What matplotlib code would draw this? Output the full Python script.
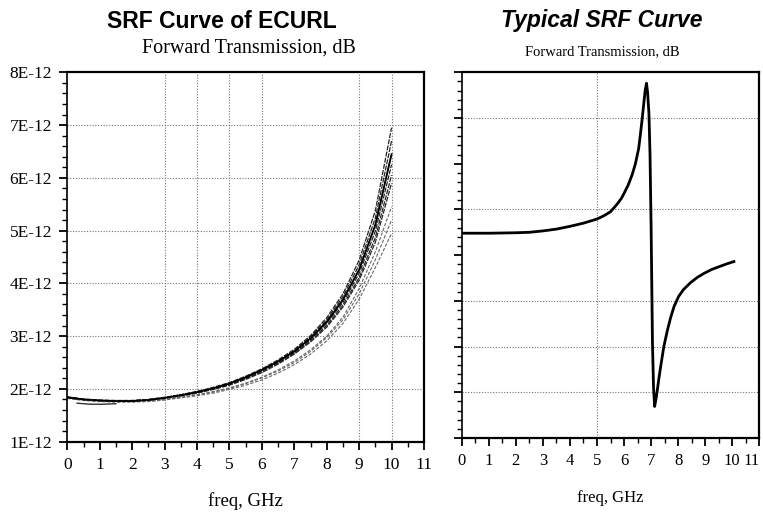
import matplotlib
matplotlib.use("Agg")
import matplotlib.pyplot as plt
import matplotlib.ticker as mtick

# Left panel: inductance of several ECURL samples (units of 1E-12)
freq = [0, 0.5, 1, 1.5, 2, 2.5, 3, 3.5, 4, 4.5, 5, 5.5, 6, 6.5, 7, 7.5, 8, 8.5, 9, 9.5, 10]
curve1 = [1.85, 1.81, 1.79, 1.78, 1.78, 1.80, 1.84, 1.89, 1.95, 2.03, 2.12, 2.24, 2.38, 2.55, 2.75, 3.01, 3.35, 3.80, 4.44, 5.38, 6.95]
curve2 = [1.84, 1.80, 1.78, 1.78, 1.78, 1.80, 1.84, 1.89, 1.95, 2.02, 2.11, 2.23, 2.37, 2.53, 2.73, 2.99, 3.31, 3.75, 4.35, 5.24, 6.70]
curve3 = [1.84, 1.80, 1.78, 1.77, 1.77, 1.79, 1.83, 1.88, 1.94, 2.01, 2.10, 2.22, 2.36, 2.52, 2.71, 2.96, 3.27, 3.69, 4.26, 5.11, 6.45]
curve4 = [1.84, 1.80, 1.78, 1.77, 1.77, 1.79, 1.83, 1.88, 1.93, 2.00, 2.09, 2.20, 2.34, 2.50, 2.69, 2.93, 3.24, 3.64, 4.19, 4.99, 6.25]
curve5 = [1.84, 1.80, 1.78, 1.77, 1.77, 1.79, 1.82, 1.87, 1.93, 2.00, 2.08, 2.19, 2.33, 2.48, 2.67, 2.91, 3.20, 3.59, 4.11, 4.87, 6.05]
curve6 = [1.84, 1.80, 1.78, 1.77, 1.77, 1.79, 1.82, 1.87, 1.92, 1.99, 2.07, 2.18, 2.31, 2.47, 2.66, 2.89, 3.17, 3.55, 4.06, 4.78, 5.90]
curve7 = [1.83, 1.79, 1.77, 1.76, 1.76, 1.77, 1.80, 1.84, 1.89, 1.95, 2.02, 2.11, 2.22, 2.36, 2.53, 2.74, 3.00, 3.36, 3.90, 4.60, 5.45]
curve8 = [1.83, 1.79, 1.77, 1.76, 1.76, 1.77, 1.80, 1.84, 1.89, 1.94, 2.01, 2.10, 2.21, 2.34, 2.50, 2.71, 2.97, 3.31, 3.80, 4.45, 5.20]
curve9 = [1.82, 1.78, 1.76, 1.75, 1.75, 1.76, 1.79, 1.83, 1.87, 1.92, 1.99, 2.07, 2.17, 2.30, 2.46, 2.66, 2.91, 3.24, 3.70, 4.30, 4.95]
short_freq = [0.3, 0.7, 1.1, 1.5]
short_vals = [1.73, 1.71, 1.71, 1.72]

upper_curves = [curve1, curve2, curve3, curve4, curve5, curve6]
lower_curves = [curve7, curve8, curve9]

# Right panel: typical SRF curve (arbitrary units, no tick labels)
typ_freq = [0, 1, 2, 2.5, 3, 3.5, 4, 4.5, 5, 5.25, 5.5, 5.75, 5.9, 6.0, 6.15, 6.3, 6.42, 6.54, 6.6, 6.67, 6.73, 6.78, 6.83,
            6.87, 6.92, 6.96, 7.0, 7.05, 7.09, 7.13, 7.18, 7.23, 7.28, 7.35, 7.47, 7.6, 7.72, 7.85, 8.02, 8.2, 8.46,
            8.7, 8.95, 9.25, 9.57, 9.8, 10.06]
typ_vals = [4.48, 4.48, 4.49, 4.50, 4.53, 4.57, 4.63, 4.70, 4.79, 4.86, 4.95, 5.12, 5.24, 5.35, 5.53, 5.76, 6.0, 6.33, 6.62, 6.98, 7.32, 7.6, 7.76,
            7.56, 7.1, 6.2, 4.62, 2.1, 1.1, 0.69, 0.85, 1.05, 1.27, 1.55, 2.0, 2.35, 2.63, 2.88, 3.10, 3.25, 3.40,
            3.51, 3.60, 3.69, 3.76, 3.81, 3.86]

x_ticks = list(range(0, 12))
left_yticks = [1, 2, 3, 4, 5, 6, 7, 8]
left_xgrid = [3, 4, 5, 6, 9, 10]
right_ygrid = [1, 2, 3, 5, 7]
right_xgrid = [5]

serif = ['Liberation Serif', 'DejaVu Serif']
sans = ['Liberation Sans', 'DejaVu Sans']

fig = plt.figure(figsize=(7.63, 5.12), dpi=100)
ax1 = fig.add_axes([0.0882, 0.1373, 0.4675, 0.7215])
ax2 = fig.add_axes([0.6051, 0.1445, 0.3901, 0.7143])

grid_kw = dict(color='0.45', linestyle=(0, (1, 1.5)), linewidth=0.8, zorder=0)

# ---- left panel
for gx in left_xgrid:
    ax1.axvline(gx, **grid_kw)
for gy in left_yticks[1:-1]:
    ax1.axhline(gy, **grid_kw)

for c in upper_curves:
    ax1.plot(freq, c, color='0.15', linewidth=0.9, linestyle=(0, (4, 1)))
for c in lower_curves:
    ax1.plot(freq, c, color='0.4', linewidth=0.8, linestyle=(0, (3, 1.5)))
ax1.plot(freq, curve3, color='black', linewidth=1.3)
ax1.plot(short_freq, short_vals, color='0.2', linewidth=1.0)

ax1.set_xlim(0, 11)
ax1.set_ylim(1, 8)
ax1.set_xticks(x_ticks)
ax1.set_yticks(left_yticks)
ax1.yaxis.set_major_formatter(mtick.FuncFormatter(lambda v, _: f'{int(round(v))}E-12'))
ax1.xaxis.set_minor_locator(mtick.MultipleLocator(0.5))
ax1.yaxis.set_minor_locator(mtick.MultipleLocator(0.2))

# ---- right panel
for gx in right_xgrid:
    ax2.axvline(gx, **grid_kw)
for gy in right_ygrid:
    ax2.axhline(gy, **grid_kw)
ax2.plot(typ_freq, typ_vals, color='black', linewidth=2.0)
ax2.set_xlim(0, 11)
ax2.set_ylim(0, 8)
ax2.set_xticks(x_ticks)
ax2.set_yticks(range(0, 9))
ax2.set_yticklabels([])
ax2.xaxis.set_minor_locator(mtick.MultipleLocator(0.5))
ax2.yaxis.set_minor_locator(mtick.MultipleLocator(0.2))

for ax in (ax1, ax2):
    ax.tick_params(which='major', direction='out', length=6, width=1.3, pad=5)
    ax.tick_params(which='minor', direction='out', length=3.5, width=1.0)
    for side in ('top', 'right', 'bottom'):
        ax.spines[side].set_linewidth(1.6)
    ax.spines['left'].set_linewidth(1.2)

for lab in ax1.get_xticklabels() + ax1.get_yticklabels():
    lab.set_family(serif)
    lab.set_fontsize(12.5)
right_labels = ax2.get_xticklabels()
for lab in right_labels:
    lab.set_family(serif)
    lab.set_fontsize(12)
right_labels[-1].set_horizontalalignment('right')

ax1.set_xlabel('freq, GHz', family=serif, fontsize=13.5, labelpad=14)
ax2.set_xlabel('freq, GHz', family=serif, fontsize=12, labelpad=15)

# titles and subtitles
fig.text(222 / 763, 1 - 21 / 512, 'SRF Curve of ECURL', family=sans, fontsize=16.5,
         fontweight='bold', ha='center', va='center')
fig.text(249 / 763, 1 - 48 / 512, 'Forward Transmission, dB', family=serif, fontsize=14.5,
         ha='center', va='center')
fig.text(602 / 763, 1 - 21 / 512, 'Typical SRF Curve', family=sans, fontsize=16.5,
         fontweight='bold', fontstyle='italic', ha='center', va='center')
fig.text(602 / 763, 1 - 52 / 512, 'Forward Transmission, dB', family=serif, fontsize=10.5,
         ha='center', va='center')

fig.savefig('out.png', dpi=100)
